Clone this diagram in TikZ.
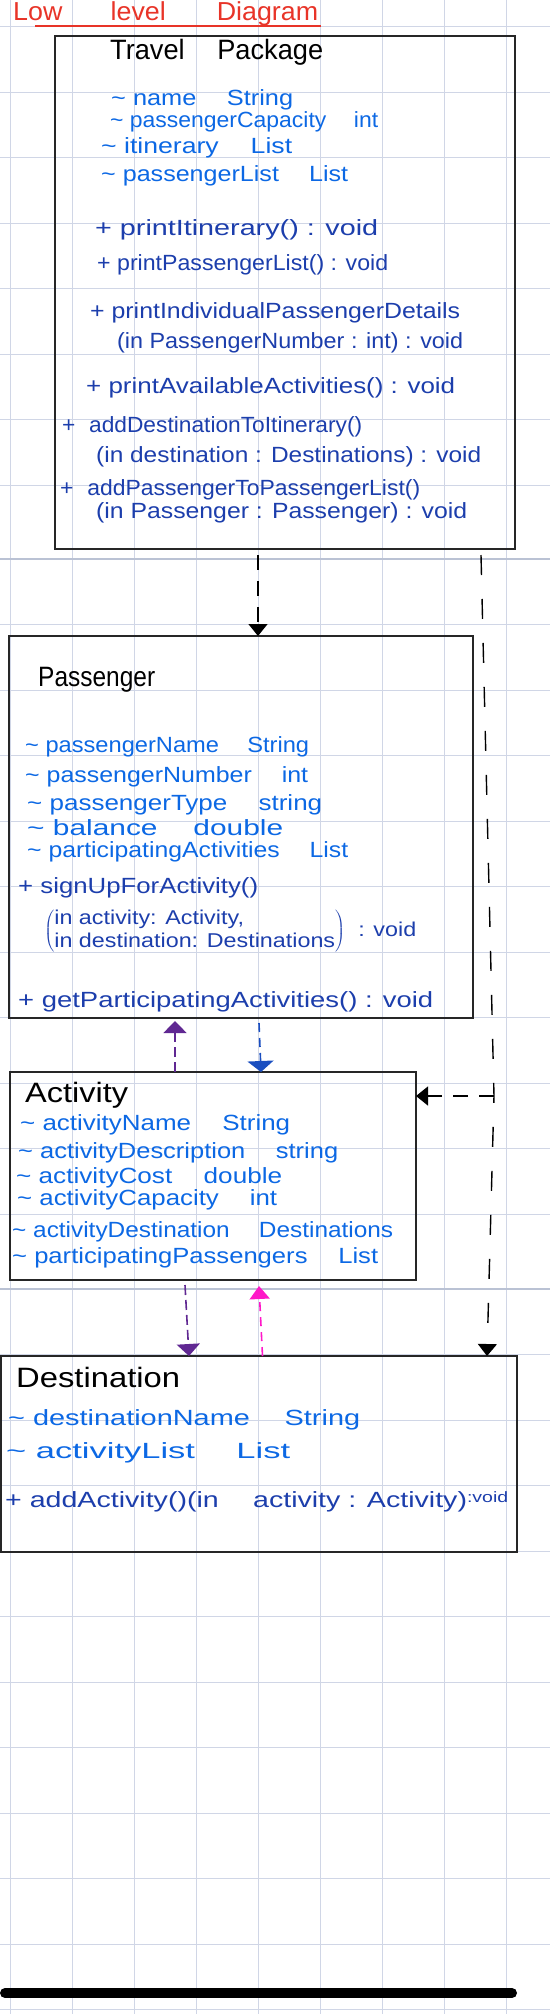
\documentclass[tikz,border=0pt]{standalone}
\usepackage{fontspec}
\setmainfont{Liberation Sans}
\usepackage{xcolor}
\usepackage{graphicx}
\usetikzlibrary{positioning,calc,arrows.meta}

\definecolor{gridblue}{RGB}{208,214,230}
\definecolor{pagegrey}{RGB}{186,194,212}
\definecolor{inkred}{RGB}{232,52,40}
\definecolor{attrblue}{RGB}{12,104,228}
\definecolor{methblue}{RGB}{28,62,172}
\definecolor{inkpurple}{RGB}{96,40,146}
\definecolor{inkblue}{RGB}{26,78,192}
\definecolor{inkpink}{RGB}{255,24,200}

\newcommand{\pkgvis}{\textasciitilde\ }
\newcommand{\typegap}{\hspace{1.2em}}
% stretch a line of writing to the width it takes on the page
\newcommand{\spanto}[2]{\resizebox{#1}{\height}{#2}}

\tikzset{
  gridline/.style={draw=gridblue, line width=0.8pt},
  classbox/.style={draw=black!85, line width=1.1pt, rectangle, inner sep=0pt, outer sep=0pt},
  classname/.style={anchor=west, inner sep=0pt, text=black, font=\fontsize{28}{30}\selectfont},
  attr/.style={anchor=west, inner sep=0pt, text=attrblue, font=\fontsize{22}{25}\selectfont},
  meth/.style={anchor=west, inner sep=0pt, text=methblue, font=\fontsize{22}{25}\selectfont},
  dep/.style={draw=black, line width=1.4pt, dash pattern=on 15pt off 11pt, -{Triangle[width=19pt,length=12pt]}},
  deppurple/.style={dep, draw=inkpurple, line width=1.6pt, dash pattern=on 10pt off 5pt, -{Triangle[width=23pt,length=12pt]}},
  depblue/.style={dep, draw=inkblue, line width=1.6pt, dash pattern=on 9pt off 6pt, -{Triangle[width=26pt,length=11pt]}},
  deppink/.style={dep, draw=inkpink, line width=1.6pt, dash pattern=on 9pt off 6pt, -{Triangle[width=20pt,length=13pt]}}
}

\begin{document}
\begin{tikzpicture}[x=1pt, y=-1pt]
    \useasboundingbox (0,0) rectangle (550,2014);

    % squared paper
    \foreach \i in {0,...,8}
        \draw[gridline] ({10+62.1*\i},0) -- ({10+62.1*\i},2014);
    \foreach \p/\a/\b in {-170/3/10, 559/0/10, 1289/0/11}
        \foreach \k in {\a,...,\b}
            \draw[gridline] (0,{\p+65.5*\k}) -- (550,{\p+65.5*\k});
    \draw[pagegrey, line width=1.4pt] (0,559) -- (550,559);
    \draw[pagegrey, line width=1.4pt] (0,1289) -- (550,1289);

    % heading
    \node[anchor=west, inner sep=0pt, text=inkred, font=\fontsize{26}{28}\selectfont] (title) at (13,14)
        {\spanto{305pt}{Low\hspace{1.8em}level\hspace{1.9em}Diagram}};
    \draw[inkred, line width=1.2pt] (35,26) -- (321,26);

    % classes
    \node[classbox, anchor=north west, minimum width=460pt, minimum height=513pt] (tp) at (55,36) {};
    \node[classbox, anchor=north west, minimum width=464pt, minimum height=382pt] (pass) at (9,636) {};
    \node[classbox, anchor=north west, minimum width=406pt, minimum height=208pt] (act) at (10,1072) {};
    \node[classbox, anchor=north west, minimum width=516pt, minimum height=196pt] (dest) at (1,1356) {};

    % Travel Package
    \node[classname] (tp-name) at (110,52) {\spanto{213pt}{Travel\hspace{1.2em}Package}};
    \foreach \n/\x/\y/\w/\t in {a1/111/100/182/{name\typegap String},
                                a2/110/122/268/{passengerCapacity\typegap int},
                                a3/101/148/191/{itinerary\typegap List},
                                a4/101/176/247/{passengerList\typegap List}}
        \node[attr] (tp-\n) at (\x,\y) {\spanto{\w pt}{\pkgvis\t}};
    \foreach \n/\x/\y/\w/\t in {m1/95/230/283/{+ printItinerary() : void},
                                m2/97/265/291/{+ printPassengerList() : void},
                                m3/90/313/370/{+ printIndividualPassengerDetails},
                                m3b/117/343/346/{(in PassengerNumber : int) : void},
                                m4/86/388/369/{+ printAvailableActivities() : void},
                                m5/62/427/300/{+\hspace{0.6em}addDestinationToItinerary()},
                                m5b/96/457/385/{(in destination : Destinations) : void},
                                m6/60/490/360/{+\hspace{0.6em}addPassengerToPassengerList()},
                                m6b/96/513/371/{(in Passenger : Passenger) : void}}
        \node[meth] (tp-\n) at (\x,\y) {\spanto{\w pt}{\t}};

    % Passenger
    \node[classname] (pass-name) at (38,680) {\spanto{117pt}{Passenger}};
    \foreach \n/\x/\y/\w/\t in {p1/25/747/284/{passengerName\typegap String},
                                p2/25/777/283/{passengerNumber\typegap int},
                                p3/27/805/295/{passengerType\typegap string},
                                p4/27/828/256/{balance\typegap double},
                                p5/27/852/321/{participatingActivities\typegap List}}
        \node[attr] (pass-\n) at (\x,\y) {\spanto{\w pt}{\pkgvis\t}};
    \node[meth] (pass-q1) at (18,888) {\spanto{240pt}{+ signUpForActivity()}};
    \node[meth, font=\fontsize{20}{23}\selectfont] (pass-q2) at (44,931)
        {\spanto{372pt}{$\left(\begin{tabular}{@{}l@{}}in activity: Activity,\\in destination: Destinations\end{tabular}\right)$\ \ : void}};
    \node[meth] (pass-q4) at (18,1002) {\spanto{415pt}{+ getParticipatingActivities() : void}};

    % Activity
    \node[classname] (act-name) at (25,1095) {\spanto{103pt}{Activity}};
    \foreach \n/\x/\y/\w/\t in {r1/20/1125/270/{activityName\typegap String},
                                r2/18/1153/320/{activityDescription\typegap string},
                                r3/16/1178/266/{activityCost\typegap double},
                                r4/17/1200/260/{activityCapacity\typegap int},
                                r5/12/1232/381/{activityDestination\typegap Destinations},
                                r6/12/1258/366/{participatingPassengers\typegap List}}
        \node[attr] (act-\n) at (\x,\y) {\spanto{\w pt}{\pkgvis\t}};

    % Destination
    \node[classname] (dest-name) at (16,1377) {\spanto{164pt}{Destination}};
    \foreach \n/\x/\y/\w/\t in {d1/8/1420/352/{destinationName\typegap String},
                                d2/6/1453/284/{activityList\typegap List}}
        \node[attr] (dest-\n) at (\x,\y) {\spanto{\w pt}{\pkgvis\t}};
    \node[meth] (dest-d3) at (5,1502)
        {\spanto{503pt}{+ addActivity()(in\hspace{1.2em}activity : Activity)\raisebox{5pt}{\fontsize{15}{17}\selectfont :void}}};

    % dependencies
    \coordinate (jct) at (494,1096);
    \draw[dep] ([xshift=-27pt,yshift=-6pt]tp.south) -- ([xshift=17pt]pass.north);
    \draw[dep, dash pattern=on 20pt off 24pt] ([xshift=196pt,yshift=-6pt]tp.south) -- (jct) -- ([xshift=228pt]dest.north);
    \draw[dep] (jct) -- (act.east |- jct);
    \draw[deppurple] ([xshift=-38pt]act.north) -- ([xshift=-66pt,yshift=-3pt]pass.south);
    \draw[depblue] ([xshift=18pt,yshift=-5pt]pass.south) -- ([xshift=48pt]act.north);
    \draw[deppurple] ([xshift=-28pt,yshift=-5pt]act.south) -- ([xshift=-70pt]dest.north);
    \draw[deppink] ([xshift=3.5pt]dest.north) -- ([xshift=46pt,yshift=-6pt]act.south);

    \draw[line width=10pt, line cap=round] (5,1993) -- (512,1993);
\end{tikzpicture}
\end{document}
